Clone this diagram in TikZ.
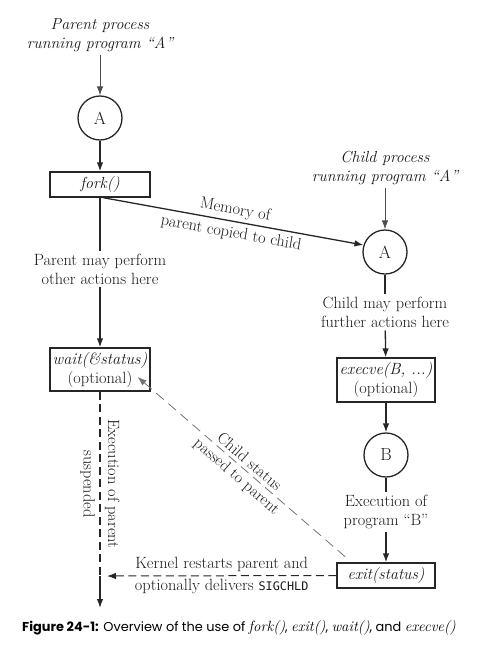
\documentclass[tikz,border=0pt]{standalone}
\usepackage{fontspec}
\newfontfamily\capfont{Poppins}
\newfontfamily\sigfont{DejaVu Sans Mono}
\newcommand\capit[1]{{\rmfamily\itshape\fontsize{14.8}{16}\selectfont #1}}
\usetikzlibrary{arrows.meta}
\begin{document}
\begin{tikzpicture}[x=1pt,y=-1pt,
  every node/.style={font=\fontsize{16.3}{19}\selectfont, text=black!90},
  circ/.style={circle, draw=black!85, line width=1.3pt, minimum size=44pt, inner sep=0pt, font=\fontsize{17.5}{19}\selectfont},
  box/.style={draw=black!85, line width=1.3pt, minimum width=100pt, align=center, inner sep=0pt},
  txt/.style={align=center, inner sep=3pt},
  ln/.style={draw=black!85, line width=1.3pt},
  arr/.style={ln, -{Latex[length=9pt,width=6.5pt]}},
  thinarr/.style={draw=black!70, line width=0.8pt, -{Latex[length=9pt,width=6.5pt]}},
  dsh/.style={dash pattern=on 8pt off 4.5pt}
]
\useasboundingbox (0,0) rectangle (486,662);

% parent column
\node[txt, font=\fontsize{16}{19}\selectfont\itshape] (ptop) at (100,35) {Parent process\\running program ``A''};
\node[circ] (A1) at (100,118) {A};
\node[box, minimum height=25pt, font=\fontsize{16}{19}\selectfont\itshape] (fork) at (100,184.5) {fork()};
\node[txt] (pmid) at (100,269) {Parent may perform\\other actions here};
\node[box, minimum height=43pt] (wait) at (100,369.5) {\textit{wait(\&status)}\\(optional)};
\coordinate (m) at (100,576);
\coordinate (bot) at (100,608);

% child column
\node[txt, font=\fontsize{16}{19}\selectfont\itshape] (ctop) at (385,168) {Child process\\running program ``A''};
\node[circ] (A2) at (385,252) {A};
\node[txt] (cmid) at (385,312) {Child may perform\\further actions here};
\node[box, minimum width=98pt, minimum height=44pt] (execve) at (386,380) {\textit{execve(B, ...)}\\(optional)};
\node[circ] (B) at (386,455) {B};
\node[txt] (bmid) at (386,512) {Execution of\\program ``B''};
\node[box, minimum width=98pt, minimum height=25pt, font=\fontsize{16}{19}\selectfont\itshape] (exit) at (386,575.5) {exit(status)};

% parent connectors
\draw[thinarr] (ptop) -- (A1);
\draw[arr] (A1) -- (fork);
\draw[ln] (fork) -- (pmid);
\draw[arr] (pmid) -- (wait);
\draw[ln, dsh] (wait) -- (m)
  node[midway, sloped, above=1pt] {Execution of parent}
  node[midway, sloped, below=1pt] {suspended};
\draw[arr] (m) -- (bot);

% fork to child
\draw[arr] ([xshift=3pt]fork.south) -- (A2.162)
  node[midway, sloped, above=0pt] {Memory of}
  node[midway, sloped, below=1pt] {parent copied to child};

% child connectors
\draw[thinarr] (ctop) -- (A2);
\draw[ln] (A2) -- (cmid);
\draw[arr] (cmid) -- (execve);
\draw[arr] (execve) -- (B);
\draw[ln] (B) -- (bmid);
\draw[arr] (bmid) -- (exit);

% kernel restart
\draw[ln, line width=1pt, dsh, -{Latex[length=9pt,width=6.5pt]}] (exit.west) -- ([xshift=7pt]m)
  node[midway, above=0pt] {Kernel restarts parent and}
  node[midway, below=0pt] {optionally delivers {\sigfont\fontsize{11.8}{13}\selectfont SIGCHLD}};

% child status
\draw[draw=black!55, line width=0.8pt, dash pattern=on 10pt off 6pt, {Latex[length=9pt,width=6.5pt]}-] ([xshift=-13pt,yshift=-7.5pt]wait.east) -- ([xshift=13pt,yshift=2pt]exit.north west)
  node[midway, sloped, above=0pt] {Child status}
  node[midway, sloped, below=0pt] {passed to parent};

% caption
\node[anchor=west, inner sep=0pt, text=black, font=\capfont\fontsize{12.9}{15}\selectfont] (cap) at (22,628)
  {\textbf{Figure 24-1:} Overview of the use of \capit{fork()}, \capit{exit()}, \capit{wait()}, and \capit{execve()}};
\end{tikzpicture}
\end{document}
